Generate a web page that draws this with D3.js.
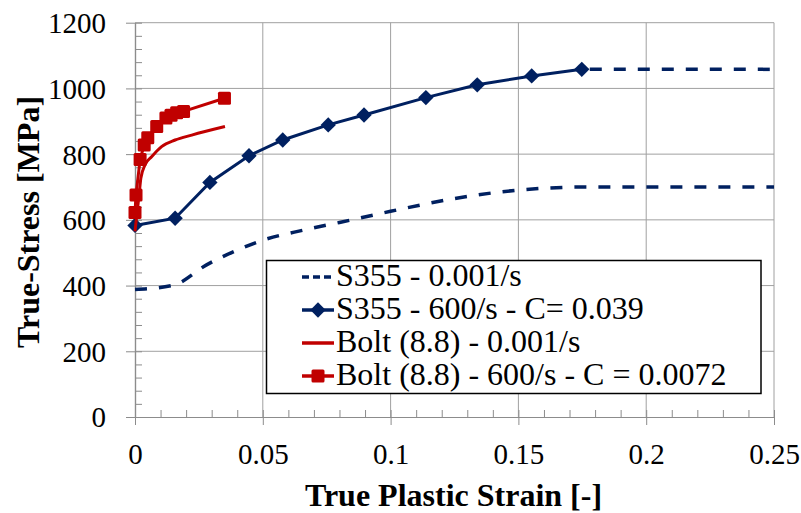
<!DOCTYPE html>
<html>
<head>
<meta charset="utf-8">
<script src="https://cdn.jsdelivr.net/npm/d3@7"></script>
<style>
  html, body { margin: 0; padding: 0; background: #fff; }
  svg { display: block; }
  svg text { font-family: "Liberation Serif", "Times New Roman", "Noto Serif", "DejaVu Serif", Times, serif !important; fill: #000; }
</style>
</head>
<body>
<svg id="chart" width="801" height="513"></svg>
<script>
// Tick values
const xTicks = [0, 0.05, 0.1, 0.15, 0.2, 0.25];
const yTicks = [0, 200, 400, 600, 800, 1000, 1200];

// S355 quasi-static (0.001/s)
const s355StaticStrain = [0, 0.015, 0.028, 0.04, 0.05, 0.066, 0.08, 0.1, 0.123, 0.143, 0.162, 0.175, 0.25];
const s355StaticStress = [388, 401, 463, 508, 538, 569, 592, 626, 662, 685, 697, 700, 700];

// S355 dynamic (600/s), C = 0.039
const s355DynStrain = [0, 0.0157, 0.0293, 0.0446, 0.0578, 0.0756, 0.0896, 0.1138, 0.1339, 0.1552, 0.1748];
const s355DynStress = [583, 605, 714, 795, 843, 889, 919, 972, 1011, 1038, 1058];
// plateau beyond the last measured point
const s355DynTailStrain = [0.1748, 0.25];
const s355DynTailStress = [1058, 1058];

// Bolt (8.8) quasi-static (0.001/s)
const boltStaticStrain = [0, 0.0016, 0.0023, 0.0039, 0.0065, 0.0104, 0.0157, 0.0222, 0.0352];
const boltStaticStress = [565, 676, 727, 767, 792, 823, 843, 858, 884];

// Bolt (8.8) dynamic (600/s), C = 0.0072
const boltDynStrain = [0, 0.0004, 0.002, 0.0036, 0.005, 0.0085, 0.0121, 0.0141, 0.0163, 0.019, 0.035];
const boltDynStress = [622, 676, 784, 828, 850, 884, 910, 918, 926, 930, 970];

const legendLabels = [
  "S355 - 0.001/s",
  "S355 - 600/s - C= 0.039",
  "Bolt (8.8) - 0.001/s",
  "Bolt (8.8) - 600/s - C = 0.0072"
];

const NAVY = "#002060";
const RED = "#C00000";
const GRID = "#a0a0a0";
const SERIF = "'Liberation Serif', 'Times New Roman', 'Noto Serif', 'DejaVu Serif', serif";

const svg = d3.select("#chart");
const plotLeft = 135, plotRight = 774, plotTop = 22.7, plotBottom = 417;

const x = d3.scaleLinear().domain([0, 0.25]).range([plotLeft, plotRight]);
const y = d3.scaleLinear().domain([0, 1200]).range([plotBottom, plotTop]);

const zip = (a, b) => a.map((v, i) => [v, b[i]]);

// Grid
const grid = svg.append("g");
grid.selectAll("line.h").data(yTicks.filter(d => d > 0)).join("line")
  .attr("x1", plotLeft).attr("x2", plotRight)
  .attr("y1", d => y(d)).attr("y2", d => y(d))
  .attr("stroke", GRID).attr("stroke-width", 1);
grid.selectAll("line.v").data(xTicks.filter(d => d > 0)).join("line")
  .attr("x1", d => x(d)).attr("x2", d => x(d))
  .attr("y1", plotTop).attr("y2", plotBottom)
  .attr("stroke", GRID).attr("stroke-width", 1);

// Axes: major ticks outside, minor ticks inside
const xMinor = d3.range(0, 26).map(i => i / 100);
const yMinor = d3.range(0, 1201, 40);

function styleAxis(g) {
  g.attr("font-family", SERIF);
  g.select(".domain").attr("stroke", "#8c8c8c").attr("stroke-width", 1.2);
  g.selectAll(".tick line").attr("stroke", "#8c8c8c").attr("stroke-width", 1);
}

svg.append("g").attr("transform", `translate(0,${plotBottom})`)
  .call(d3.axisBottom(x).tickValues(xMinor).tickSizeInner(-7).tickSizeOuter(0).tickFormat(""))
  .call(styleAxis);
svg.append("g").attr("transform", `translate(${plotLeft},0)`)
  .call(d3.axisLeft(y).tickValues(yMinor).tickSizeInner(-7).tickSizeOuter(0).tickFormat(""))
  .call(styleAxis);

const xAxis = svg.append("g").attr("transform", `translate(0,${plotBottom})`)
  .call(d3.axisBottom(x).tickValues(xTicks).tickSizeInner(8).tickSizeOuter(0)
    .tickFormat(d => String(d)))
  .call(styleAxis);
xAxis.selectAll("text").attr("font-size", 29).style("font-family", SERIF)
  .attr("dy", 0).attr("y", 47);

const yAxis = svg.append("g").attr("transform", `translate(${plotLeft},0)`)
  .call(d3.axisLeft(y).tickValues(yTicks).tickSizeInner(9).tickSizeOuter(0).tickPadding(20)
    .tickFormat(d3.format("d")))
  .call(styleAxis);
yAxis.selectAll("text").attr("font-size", 29).style("font-family", SERIF)
  .attr("dy", "0.34em");

// Axis titles
svg.append("text")
  .attr("x", (plotLeft + plotRight) / 2 - 1).attr("y", 506)
  .attr("text-anchor", "middle").attr("font-size", 32).attr("font-weight", "bold")
  .style("font-family", SERIF)
  .text("True Plastic Strain [-]");
svg.append("text")
  .attr("transform", "translate(39,222) rotate(-90)")
  .attr("text-anchor", "middle").attr("font-size", 32).attr("font-weight", "bold")
  .style("font-family", SERIF)
  .text("True-Stress [MPa]");

// Series
const lineStraight = d3.line().x(d => x(d[0])).y(d => y(d[1]));
const lineSmooth = d3.line().x(d => x(d[0])).y(d => y(d[1])).curve(d3.curveMonotoneX);

const plot = svg.append("g");

plot.append("path").datum(zip(s355StaticStrain, s355StaticStress))
  .attr("d", lineSmooth).attr("fill", "none").attr("stroke", NAVY)
  .attr("stroke-width", 3.5).attr("stroke-dasharray", "12,12");

plot.append("path").datum(zip(s355DynTailStrain, s355DynTailStress))
  .attr("d", lineStraight).attr("fill", "none").attr("stroke", NAVY)
  .attr("stroke-width", 3.5).attr("stroke-dasharray", "12,12").attr("stroke-dashoffset", -8);

plot.append("path").datum(zip(s355DynStrain, s355DynStress))
  .attr("d", lineStraight).attr("fill", "none").attr("stroke", NAVY).attr("stroke-width", 3);

const diamond = d3.symbol().type(d3.symbolDiamond2).size(150);
plot.selectAll("path.dia").data(zip(s355DynStrain, s355DynStress)).join("path")
  .attr("class", "dia")
  .attr("transform", d => `translate(${x(d[0])},${y(d[1])})`)
  .attr("d", diamond).attr("fill", NAVY);

plot.append("path").datum(zip(boltStaticStrain, boltStaticStress))
  .attr("d", lineSmooth).attr("fill", "none").attr("stroke", RED).attr("stroke-width", 3);

plot.append("path").datum(zip(boltDynStrain, boltDynStress))
  .attr("d", lineStraight).attr("fill", "none").attr("stroke", RED).attr("stroke-width", 3);

const sq = 13;
plot.selectAll("rect.sq").data(zip(boltDynStrain, boltDynStress)).join("rect")
  .attr("class", "sq")
  .attr("x", d => x(d[0]) - sq / 2).attr("y", d => y(d[1]) - sq / 2)
  .attr("width", sq).attr("height", sq).attr("rx", 1.5).attr("fill", RED);

// Legend
const lg = svg.append("g");
lg.append("rect").attr("x", 266.5).attr("y", 260.5).attr("width", 494.5).attr("height", 133)
  .attr("fill", "#fff").attr("stroke", "#000").attr("stroke-width", 1.5);

const rowBase = [286, 319, 352, 385];
const styles = [
  { color: NAVY, dash: "7,4", width: 3.5, mark: null },
  { color: NAVY, dash: null, width: 3.5, mark: "diamond" },
  { color: RED, dash: null, width: 3.5, mark: null },
  { color: RED, dash: null, width: 3.5, mark: "square" }
];
legendLabels.forEach((label, i) => {
  const cy = rowBase[i] - 9;
  const s = styles[i];
  lg.append("line").attr("x1", 302).attr("x2", 334).attr("y1", cy).attr("y2", cy)
    .attr("stroke", s.color).attr("stroke-width", s.width)
    .attr("stroke-dasharray", s.dash);
  if (s.mark === "diamond") {
    lg.append("path").attr("transform", `translate(318,${cy})`)
      .attr("d", diamond).attr("fill", s.color);
  } else if (s.mark === "square") {
    lg.append("rect").attr("x", 318 - sq / 2).attr("y", cy - sq / 2)
      .attr("width", sq).attr("height", sq).attr("rx", 1.5).attr("fill", s.color);
  }
  lg.append("text").attr("x", 336).attr("y", rowBase[i])
    .attr("font-size", 32).style("font-family", SERIF).text(label);
});
</script>
</body>
</html>
